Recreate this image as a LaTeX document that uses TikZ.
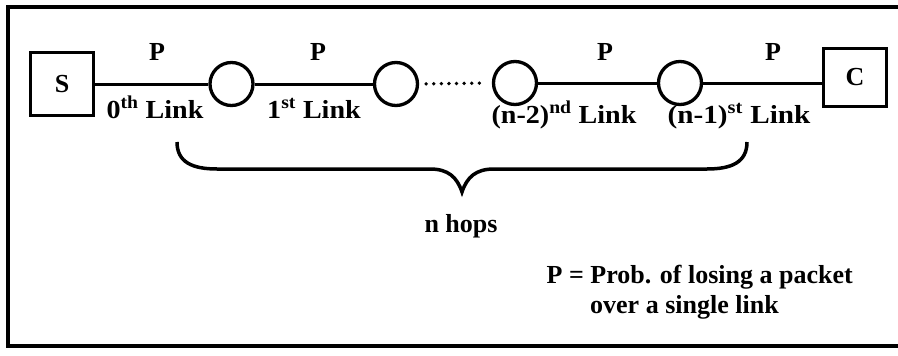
\documentclass[tikz,border=0pt]{standalone}
\usepackage{fontspec}
\setmainfont{Liberation Serif}
\begin{document}
\begin{tikzpicture}[x=1pt,y=-1pt,
  lbl/.style={font=\fontsize{26}{30}\selectfont\bfseries, inner sep=0pt},
  linklbl/.style={lbl, xscale=1.08},
  endbox/.style={draw, line width=2.8pt, minimum width=63pt, minimum height=63pt, inner sep=0pt, font=\fontsize{26}{30}\selectfont\bfseries},
  hop/.style={draw, circle, line width=3.3pt, minimum size=43pt, inner sep=0pt},
  wire/.style={line width=3pt},
  dotline/.style={line width=3.8pt, line cap=round, dash pattern=on 0pt off 7.6pt},
  frame/.style={line width=3.5pt},
  brace/.style={line width=3.5pt}
]
\useasboundingbox (0,0) rectangle (898,356);
% frame (open on the right)
\coordinate (f1) at (898,7);
\coordinate (f2) at (8,7);
\coordinate (f3) at (8,346);
\coordinate (f4) at (898,346);
\draw[frame] (f1) -- (f2) -- (f3) -- (f4);

% nodes
\node[endbox] (S) at (62,84) {S};
\node[hop] (c1) at (231.5,84) {};
\node[hop] (c2) at (396,84) {};
\node[hop] (c3) at (515,83) {};
\node[hop] (c4) at (680,83) {};
\node[endbox, minimum height=58.5pt] (C) at (855,77.5) {C};

% connectors
\draw[wire] (S.east) -- (c1.west);
\draw[wire] (c1.east) -- (c2.west);
\draw[dotline, shorten <=7pt, shorten >=6pt] (c2.east) -- (c3.west);
\draw[wire] (c3.east) -- (c4.west);
\draw[wire] (c4.east) -- (c4.east -| C.west);

% P labels
\node[lbl, anchor=base] (p0) at (157,60) {P};
\node[lbl, anchor=base] (p1) at (318,60) {P};
\node[lbl, anchor=base] (p2) at (605,60) {P};
\node[lbl, anchor=base] (p3) at (773,60) {P};

% link labels
\node[linklbl, anchor=base] (l0) at (155,118) {0\textsuperscript{th} Link};
\node[linklbl, anchor=base] (l1) at (314,118) {1\textsuperscript{st} Link};
\node[linklbl, anchor=base] (l2) at (564,123) {(n-2)\textsuperscript{nd} Link};
\node[linklbl, anchor=base, xscale=1.04] (l3) at (739,123) {(n-1)\textsuperscript{st} Link};

% brace
\coordinate (bl) at (177,142);
\coordinate (bt) at (462,192);
\coordinate (br) at (747,142);
\draw[brace] (bl) .. controls (177,162) and (192,169) .. (217,169)
  -- (430,169) .. controls (448,169) and (457,177) .. (bt)
  .. controls (467,177) and (476,169) .. (494,169)
  -- (707,169) .. controls (732,169) and (747,162) .. (br);

\node[lbl, anchor=base] (hops) at (461,232) {n hops};

\node[lbl, anchor=base east] (leg1) at (853,283) {P = Prob. of losing a packet};
\node[lbl, anchor=base west] (leg2) at (590,313) {over a single link};
\end{tikzpicture}
\end{document}
